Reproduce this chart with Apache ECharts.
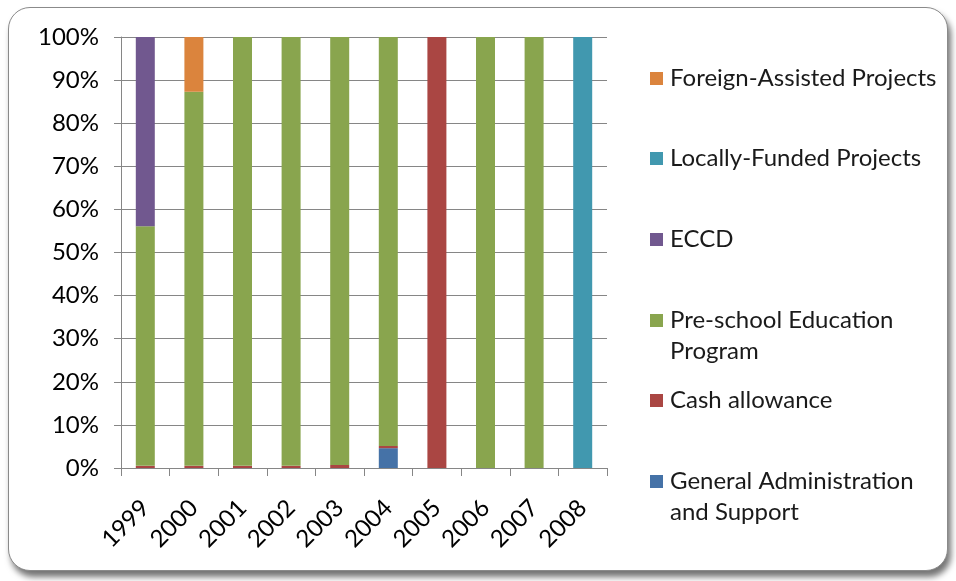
<!DOCTYPE html>
<html>
<head>
<meta charset="utf-8">
<script src="https://cdn.jsdelivr.net/npm/echarts@6/dist/echarts.min.js"></script>
<style>
    html, body { margin: 0; padding: 0; background: #fff; }
    .frame {
        position: absolute; left: 8px; top: 7px; width: 938px; height: 562px;
        border: 1px solid #8a8a8a; border-radius: 22px;
        box-shadow: 3px 6px 6px rgba(0, 0, 0, 0.55);
        background: #fff;
    }
    .com-chart { position: absolute; left: 0; top: 0; width: 956px; height: 581px; }
</style>
</head>
<body>
<div class="frame"></div>
<div class="com-chart" id="main"></div>
<script>
const years = ['1999', '2000', '2001', '2002', '2003', '2004', '2005', '2006', '2007', '2008']
const generalAdmin = [0, 0, 0, 0, 0, 4.6, 0, 0, 0, 0]
const cashAllowance = [0.5, 0.5, 0.5, 0.5, 0.7, 0.5, 100, 0, 0, 0]
const preschool = [55.6, 86.8, 99.5, 99.5, 99.3, 94.9, 0, 100, 100, 0]
const eccd = [43.9, 0, 0, 0, 0, 0, 0, 0, 0, 0]
const locallyFunded = [0, 0, 0, 0, 0, 0, 0, 0, 0, 100]
const foreignAssisted = [0, 12.7, 0, 0, 0, 0, 0, 0, 0, 0]
const yTicks = [0, 10, 20, 30, 40, 50, 60, 70, 80, 90, 100]

const seriesDefs = [
    { name: 'General Administration and Support', label: '\nGeneral Administration\nand Support', data: generalAdmin, color: '#4572A7', center: 481, lines: 3 },
    { name: 'Cash allowance', label: 'Cash allowance', data: cashAllowance, color: '#AA4643', center: 400, lines: 1 },
    { name: 'Pre-school Education Program', label: '\nPre-school Education\nProgram', data: preschool, color: '#89A54E', center: 320, lines: 3 },
    { name: 'ECCD', label: 'ECCD', data: eccd, color: '#71588F', center: 239, lines: 1 },
    { name: 'Locally-Funded Projects', label: 'Locally-Funded Projects', data: locallyFunded, color: '#4198AF', center: 158, lines: 1 },
    { name: 'Foreign-Assisted Projects', label: 'Foreign-Assisted Projects', data: foreignAssisted, color: '#DB843D', center: 78, lines: 1 }
]

const lineH = 31
const chartInstance = echarts.init(document.getElementById('main'))

const option = {
    animation: false,
    textStyle: { fontFamily: 'Lato' },
    grid: { left: 121, right: 349, top: 37, bottom: 113 },
    legend: seriesDefs.map((s) => ({
        data: [s.name],
        left: 650,
        top: s.center - lineH * s.lines / 2 + 0.5,
        padding: 0,
        itemWidth: 13,
        itemHeight: 13,
        itemGap: 0,
        icon: 'rect',
        selectedMode: false,
        formatter: () => s.label,
        textStyle: { fontFamily: 'Lato', fontSize: 24, color: '#1a1a1a', lineHeight: lineH, padding: [0, 0, 0, 2] }
    })),
    xAxis: {
        type: 'category',
        data: years,
        axisLine: { lineStyle: { color: '#868686', width: 1 } },
        axisTick: { show: true, length: 8, lineStyle: { color: '#868686' } },
        axisLabel: { rotate: 45, margin: 36, fontSize: 24, color: '#000', fontFamily: 'Lato' }
    },
    yAxis: {
        type: 'value',
        min: yTicks[0],
        max: yTicks[yTicks.length - 1],
        interval: 10,
        axisLine: { show: true, lineStyle: { color: '#868686' } },
        axisTick: { show: true, length: 7, lineStyle: { color: '#868686' } },
        splitLine: { lineStyle: { color: '#868686', width: 1 } },
        axisLabel: { formatter: '{value}%', fontSize: 24, color: '#000', margin: 22, fontFamily: 'Lato' }
    },
    series: seriesDefs.map((s) => ({
        name: s.name,
        type: 'bar',
        stack: 'total',
        barWidth: 19,
        data: s.data,
        itemStyle: { color: s.color }
    }))
}
chartInstance.setOption(option)
</script>
</body>
</html>
